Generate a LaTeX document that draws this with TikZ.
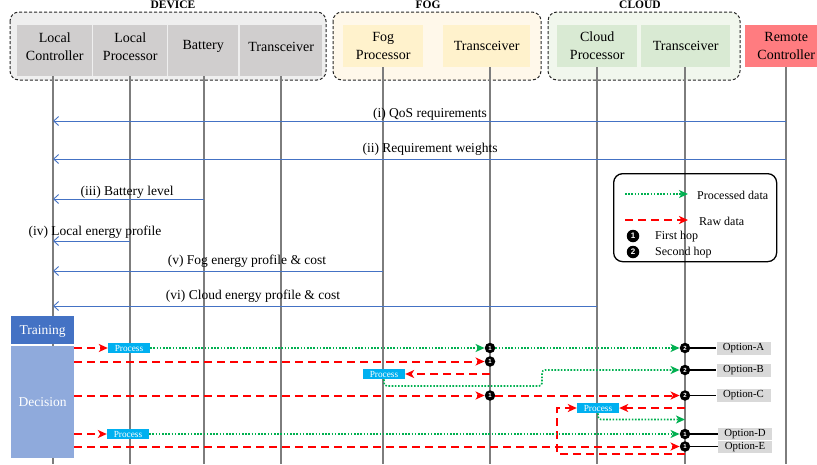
\documentclass[tikz,border=0pt]{standalone}
\usepackage{fontspec}
\setmainfont{Liberation Serif}
\newfontfamily\numfont{Liberation Sans}
\usetikzlibrary{arrows.meta,calc}
\definecolor{devgrp}{RGB}{239,239,239}
\definecolor{devbox}{RGB}{208,206,206}
\definecolor{foggrp}{RGB}{255,248,234}
\definecolor{fogbox}{RGB}{255,242,204}
\definecolor{cldgrp}{RGB}{241,247,237}
\definecolor{cldbox}{RGB}{217,234,211}
\definecolor{remote}{RGB}{255,124,128}
\definecolor{msgblue}{RGB}{68,114,196}
\definecolor{trainblue}{RGB}{68,114,196}
\definecolor{decblue}{RGB}{143,170,220}
\definecolor{procblue}{RGB}{0,176,240}
\definecolor{optgray}{RGB}{217,217,217}
\definecolor{grn}{RGB}{0,176,80}
\definecolor{lifegray}{RGB}{125,125,125}
\begin{document}
\begin{tikzpicture}[x=1pt,y=-1pt,
  hdrtext/.style={inner sep=0pt, align=center, anchor=north west, minimum height=42pt, font=\fontsize{14}{18}\selectfont},
  grpbox/.style={draw=black!85, line width=1pt, dash pattern=on 3pt off 2pt, rounded corners=9pt},
  grplabel/.style={inner sep=0pt, font=\fontsize{11.5}{12}\selectfont\bfseries},
  life/.style={draw=lifegray, line width=1.1pt},
  msg/.style={draw=msgblue, line width=0.9pt, -{Straight Barb[length=5pt,width=9pt]}},
  msglabel/.style={inner sep=0pt, font=\fontsize{13.5}{15}\selectfont},
  raw/.style={draw=red, line width=2pt, dash pattern=on 8pt off 5pt, -{Stealth[length=9pt,width=8pt,inset=2.5pt]}},
  procd/.style={draw=grn, line width=1.6pt, dash pattern=on 1.6pt off 1.6pt, rounded corners=3pt, -{Stealth[length=9pt,width=8pt,inset=2.5pt]}},
  hop/.style={circle, fill=black, inner sep=0pt, minimum size=10.5pt, text=white, font=\numfont\bfseries\fontsize{6}{6}\selectfont},
  bighop/.style={hop, minimum size=12.5pt, font=\numfont\bfseries\fontsize{8}{8}\selectfont},
  procbox/.style={fill=procblue, text=white, inner sep=0pt, minimum width=42pt, minimum height=10.5pt, font=\fontsize{9.3}{9.5}\selectfont},
  optbox/.style={fill=optgray, inner sep=0pt, minimum width=54pt, minimum height=13pt, font=\fontsize{10.8}{11}\selectfont},
  link/.style={draw=black, line width=1.3pt},
  legtext/.style={inner sep=0pt, anchor=west, font=\fontsize{12}{13}\selectfont},
  phase/.style={text=white, inner sep=0pt, anchor=north west, minimum width=63pt, text depth=0pt, font=\fontsize{13.5}{15}\selectfont}
]
\useasboundingbox (0,0) rectangle (817,464);

% ---------- groups ----------
\draw[grpbox, fill=devgrp] (10,12) rectangle (326,80);
\draw[grpbox, fill=foggrp] (333,12) rectangle (541,80);
\draw[grpbox, fill=cldgrp] (548,12) rectangle (740,80);
\node[grplabel] (gdev) at (173,5) {DEVICE};
\node[grplabel] (gfog) at (428,5) {FOG};
\node[grplabel] (gcld) at (640,5) {CLOUD};

% ---------- header boxes ----------
\fill[devbox] (17,25) rectangle (92,76);
\fill[devbox] (93,25) rectangle (167,76);
\fill[devbox] (168,25) rectangle (238,76);
\fill[devbox] (240,25) rectangle (322,76);
\node[hdrtext, minimum width=75pt] (lc) at (17,25.5) {Local\\Controller};
\node[hdrtext, minimum width=74pt] (lp) at (93,25.5) {Local\\Processor};
\node[hdrtext, minimum width=70pt] (bat) at (168,25.5) {Battery};
\node[hdrtext, minimum width=82pt] (dt) at (240,25.5) {Transceiver};
\node[hdrtext, fill=fogbox, minimum width=80pt] (fp) at (343,25) {Fog\\Processor};
\node[hdrtext, fill=fogbox, minimum width=87pt] (ft) at (443,25) {Transceiver};
\node[hdrtext, fill=cldbox, minimum width=80pt] (cp) at (557,25) {Cloud\\Processor};
\node[hdrtext, fill=cldbox, minimum width=89pt] (ct) at (641,25) {Transceiver};
\node[hdrtext, fill=remote, minimum width=82pt] (rc) at (745,25) {Remote\\Controller};

% ---------- lifelines ----------
\coordinate (devbot) at (0,76);
\coordinate (bot) at (0,464);
\coordinate (xlc) at (53,0);
\coordinate (xlp) at (130,0);
\coordinate (xbat) at (204,0);
\coordinate (xdt) at (281,0);
\coordinate (xfp) at (383,0);
\coordinate (xft) at (490,0);
\coordinate (xcp) at (597,0);
\coordinate (xct) at (685,0);
\coordinate (xrc) at (786,0);
\draw[life] (xlc |- devbot) -- (xlc |- bot);
\draw[life] (xlp |- devbot) -- (xlp |- bot);
\draw[life] (xbat |- devbot) -- (xbat |- bot);
\draw[life] (xdt |- devbot) -- (xdt |- bot);
\draw[life] (xfp |- fp.south) -- (xfp |- bot);
\draw[life] (xft |- ft.south) -- (xft |- bot);
\draw[life] (xcp |- cp.south) -- (xcp |- bot);
\draw[life] (xct |- ct.south) -- (xct |- bot);
\draw[life] (xrc |- rc.south) -- (xrc |- bot);

% ---------- messages ----------
\coordinate (m1) at (0,121);
\coordinate (m2) at (0,159);
\coordinate (m3) at (0,199);
\coordinate (m4) at (0,241);
\coordinate (m5) at (0,271);
\coordinate (m6) at (0,306);
\draw[msg] (xrc |- m1) -- (xlc |- m1);
\draw[msg] (xrc |- m2) -- (xlc |- m2);
\draw[msg] (xbat |- m3) -- (xlc |- m3);
\draw[msg] (xlp |- m4) -- (xlc |- m4);
\draw[msg] (xfp |- m5) -- (xlc |- m5);
\draw[msg] (xcp |- m6) -- (xlc |- m6);
\node[msglabel] (l1) at (430,114.5) {(i) QoS requirements};
\node[msglabel] (l2) at (430,149.5) {(ii) Requirement weights};
\node[msglabel] (l3) at (127,192) {(iii) Battery level};
\node[msglabel] (l4) at (95,232) {(iv) Local energy profile};
\node[msglabel] (l5) at (247,261.5) {(v) Fog energy profile \& cost};
\node[msglabel] (l6) at (253,296) {(vi) Cloud energy profile \& cost};

% ---------- legend ----------
\node[draw, line width=1.3pt, rounded corners=9pt, minimum width=163pt, minimum height=88pt, anchor=north west, inner sep=0pt] (legend) at (613,173) {};
\coordinate (lg1a) at (625,194);
\coordinate (lg1b) at (688,194);
\coordinate (lg2a) at (625,220);
\coordinate (lg2b) at (688,220);
\draw[procd] (lg1a) -- (lg1b);
\draw[raw] (lg2a) -- (lg2b);
\node[legtext] (lgt1) at (697,195) {Processed data};
\node[legtext] (lgt2) at (699,221) {Raw data};
\node[bighop] (lgc1) at (633,236) {1};
\node[legtext] (lgt3) at (655,237) {First hop};
\node[bighop] (lgc2) at (633,252) {2};
\node[legtext] (lgt4) at (655,253) {Second hop};

% ---------- phases ----------
\node[phase, fill=trainblue, minimum height=28pt] (train) at (11,316) {Training};
\node[phase, fill=decblue, minimum height=112pt] (dec) at (11,346) {Decision};

% ---------- process boxes, hops, options ----------
\node[procbox] (pA) at (129,348) {Process};
\node[procbox] (pB) at (384,374) {Process};
\node[procbox] (pC) at (598,408) {Process};
\node[procbox] (pD) at (128,434) {Process};

\node[hop] (cA1) at (490,348) {1};
\node[hop] (cA2) at (685,348) {2};
\node[hop] (cB1) at (490,361.5) {1};
\node[hop] (cB2) at (685,370) {2};
\node[hop] (cC1) at (490,395.5) {1};
\node[hop] (cC2) at (685,395.5) {2};
\node[hop] (cD) at (685,434) {1};
\node[hop] (cE) at (685,446.5) {1};

\node[optbox] (oA) at (743.5,348.5) {Option-A};
\node[optbox] (oB) at (743.5,370.5) {Option-B};
\node[optbox] (oC) at (743.5,395.5) {Option-C};
\node[optbox, minimum height=12.5pt] (oD) at (745,434) {Option-D};
\node[optbox, minimum height=12.5pt] (oE) at (745,447) {Option-E};

% Option A
\draw[raw] (dec.east |- pA) -- (pA.west);
\draw[procd] (pA.east) -- (cA1.west);
\draw[procd] (cA1.east) -- (cA2.west);
\draw[link] (cA2.east) -- (oA.west |- cA2);
% Option B
\coordinate (bendB) at (542,386);
\draw[raw] (dec.east |- cB1) -- (cB1.west);
\draw[raw] (xft |- pB) -- (pB.east);
\draw[procd] (pB.south) |- (bendB) |- (cB2.west);
\draw[link] (cB2.east) -- (oB.west |- cB2);
% Option C
\draw[raw] (dec.east |- cC1) -- (cC1.west);
\draw[raw] (cC1.east) -- (cC2.west);
\draw[link] (cC2.east) -- (oC.west |- cC2);
% cloud processing
\coordinate (loopB) at (557,454);
\coordinate (gC) at (685,419.5);
\draw[raw] (xct |- pC) -- (pC.east);
\draw[raw] (xct |- loopB) -- (loopB) |- (pC.west);
\draw[procd] (pC.south) |- (gC);
% Option D
\draw[raw] (dec.east |- pD) -- (pD.west);
\draw[procd] (pD.east) -- (cD.west);
\draw[link] (cD.east) -- (oD.west |- cD);
% Option E
\draw[raw] (dec.east |- cE) -- (cE.west);
\draw[link] (cE.east) -- (oE.west |- cE);
\end{tikzpicture}
\end{document}
